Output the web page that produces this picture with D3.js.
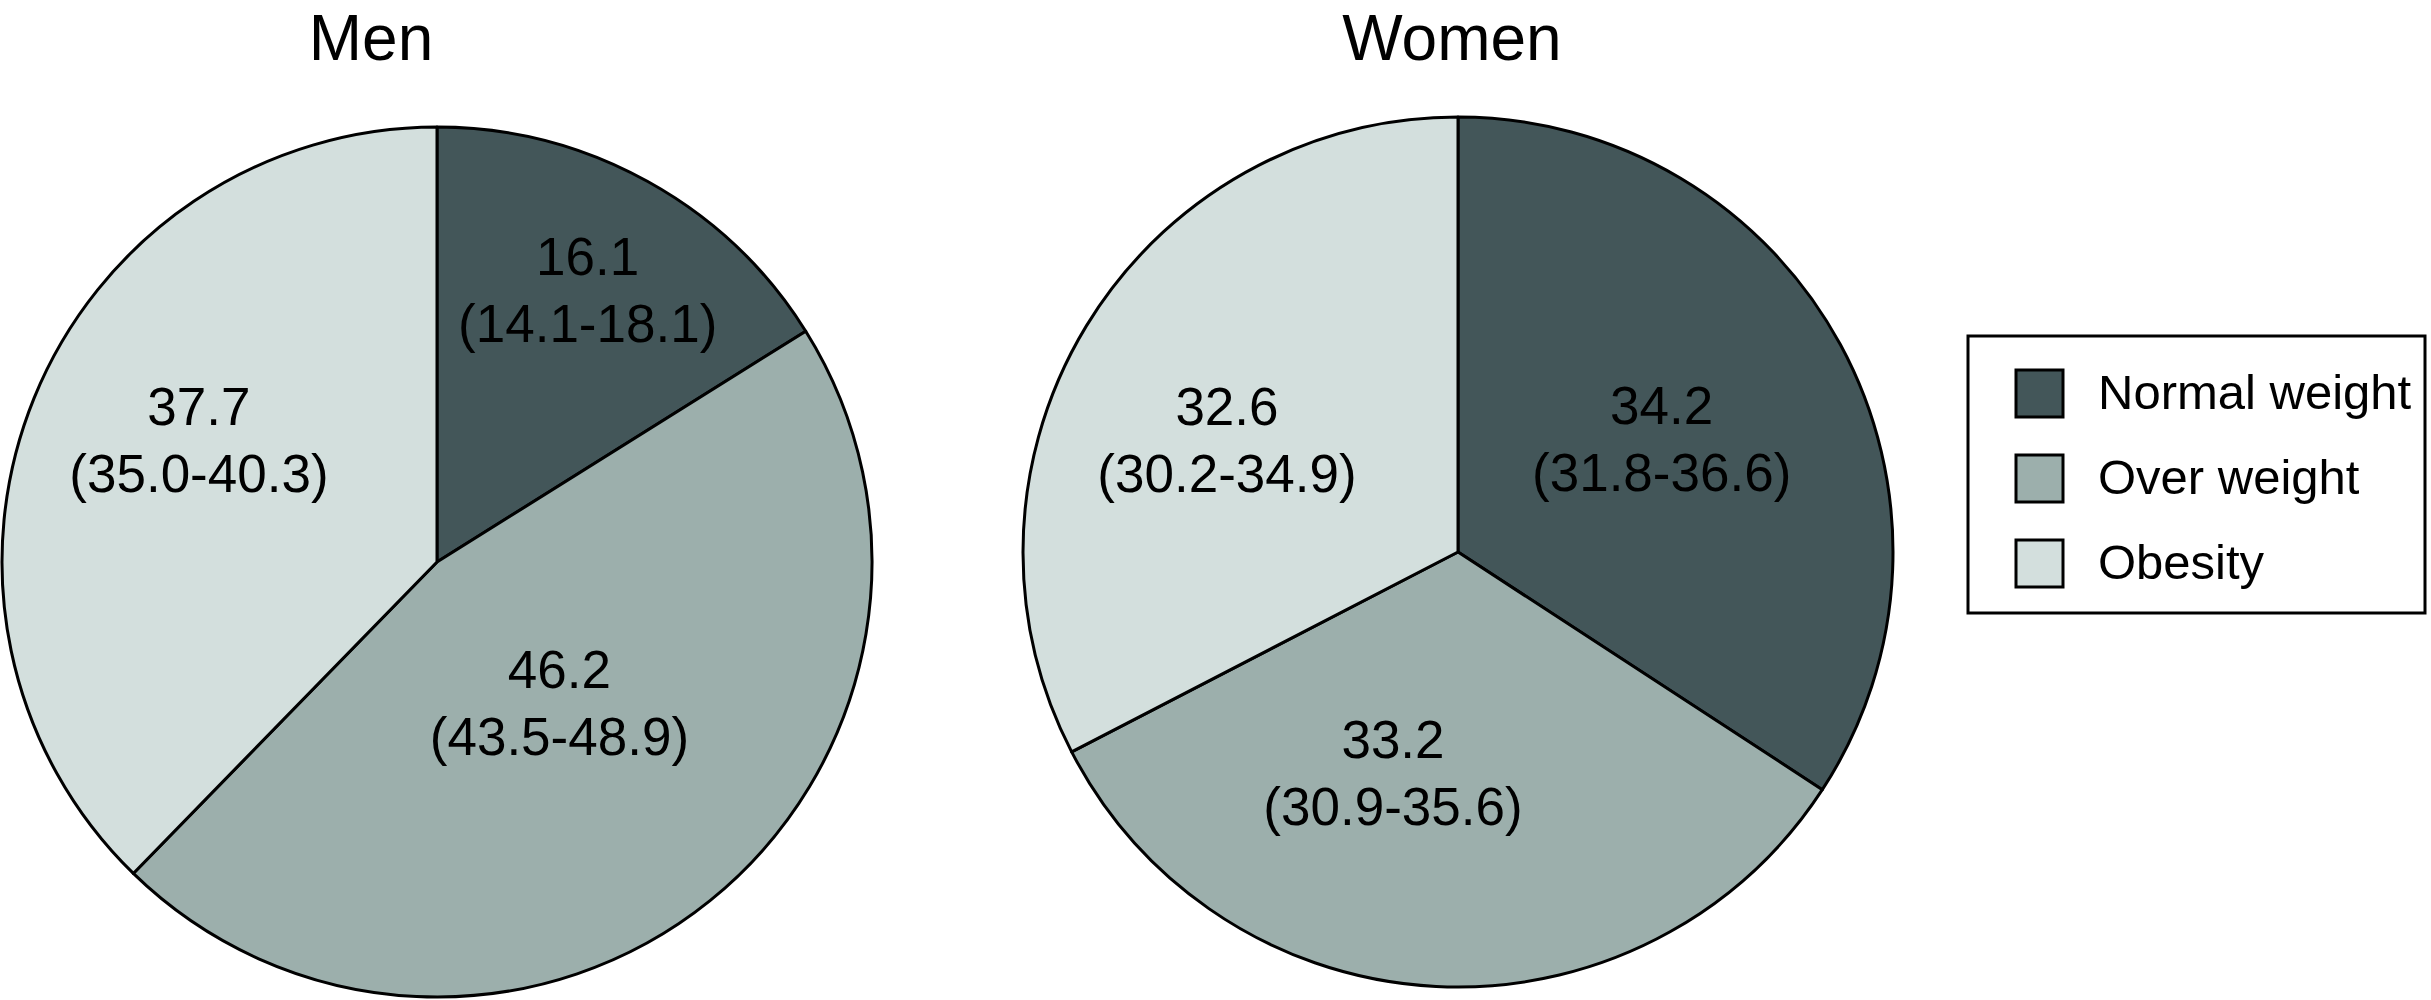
<!DOCTYPE html>
<html>
<head>
<meta charset="utf-8">
<script src="https://cdn.jsdelivr.net/npm/d3@7/dist/d3.min.js"></script>
<style>
  html, body { margin: 0; padding: 0; background: #fff; }
  svg { display: block; }
  text { font-family: "Liberation Sans", Arial, sans-serif; fill: #000; }
</style>
</head>
<body>
<svg id="chart" width="2431" height="1000"></svg>
<script>
// ---- Data ----
const categories = ["Normal weight", "Over weight", "Obesity"];
const groups = ["Men", "Women"];
const menValues = [16.1, 46.2, 37.7];
const menCI = ["(14.1-18.1)", "(43.5-48.9)", "(35.0-40.3)"];
const womenValues = [34.2, 33.2, 32.6];
const womenCI = ["(31.8-36.6)", "(30.9-35.6)", "(30.2-34.9)"];
const colors = ["#435659", "#9cafac", "#d3dfdd"];

// ---- Layout ----
const W = 2431, H = 1000;
const R = 435;
const pies = [
  { title: groups[0], values: menValues, ci: menCI, cx: 437, cy: 562, titleX: 371,
    // label placement: fraction of radius and angle nudge (deg) relative to slice centroid
    labelLayout: [{ rf: 0.715, da: 0 }, { rf: 0.43, da: -2 }, { rf: 0.615, da: 5 }] },
  { title: groups[1], values: womenValues, ci: womenCI, cx: 1458, cy: 552, titleX: 1452,
    labelLayout: [{ rf: 0.535, da: -0.5 }, { rf: 0.53, da: 13.5 }, { rf: 0.59, da: -5.5 }] }
];

const svg = d3.select("#chart");
svg.append("rect").attr("width", W).attr("height", H).attr("fill", "#fff");

const color = d3.scaleOrdinal().domain(categories).range(colors);
const pie = d3.pie().sort(null).value(d => d.value);
const arc = d3.arc().innerRadius(0).outerRadius(R);

pies.forEach(p => {
  const data = categories.map((c, i) => ({ cat: c, value: p.values[i], ci: p.ci[i], idx: i }));
  const g = svg.append("g").attr("transform", `translate(${p.cx},${p.cy})`);
  const arcs = pie(data);

  g.selectAll("path.slice")
    .data(arcs)
    .join("path")
    .attr("class", "slice")
    .attr("d", arc)
    .attr("fill", d => color(d.data.cat))
    .attr("stroke", "#000")
    .attr("stroke-width", 3)
    .attr("stroke-linejoin", "round");

  const lab = g.selectAll("g.lab")
    .data(arcs)
    .join("g")
    .attr("class", "lab")
    .attr("transform", d => {
      const L = p.labelLayout[d.data.idx];
      const mid = (d.startAngle + d.endAngle) / 2 + L.da * Math.PI / 180;
      const rr = R * L.rf;
      return `translate(${rr * Math.sin(mid)},${-rr * Math.cos(mid)})`;
    });
  lab.append("text")
    .attr("text-anchor", "middle")
    .attr("y", -15)
    .attr("font-size", 53)
    .text(d => d.data.value.toFixed(1));
  lab.append("text")
    .attr("text-anchor", "middle")
    .attr("y", 52)
    .attr("font-size", 53)
    .text(d => d.data.ci);

  svg.append("text")
    .attr("x", p.titleX)
    .attr("y", 60)
    .attr("text-anchor", "middle")
    .attr("font-size", 64)
    .text(p.title);
});

// ---- Legend ----
const lg = svg.append("g").attr("transform", "translate(1968,336)");
lg.append("rect")
  .attr("width", 457).attr("height", 277)
  .attr("fill", "#fff").attr("stroke", "#000").attr("stroke-width", 3);
const rowY = d3.scalePoint().domain(categories).range([57, 227]);
const item = lg.selectAll("g.item")
  .data(categories)
  .join("g")
  .attr("class", "item")
  .attr("transform", d => `translate(0,${rowY(d)})`);
item.append("rect")
  .attr("x", 48).attr("y", -23)
  .attr("width", 47).attr("height", 47)
  .attr("fill", d => color(d))
  .attr("stroke", "#000").attr("stroke-width", 3);
item.append("text")
  .attr("x", 130).attr("y", 16)
  .attr("font-size", 49)
  .text(d => d);
</script>
</body>
</html>
